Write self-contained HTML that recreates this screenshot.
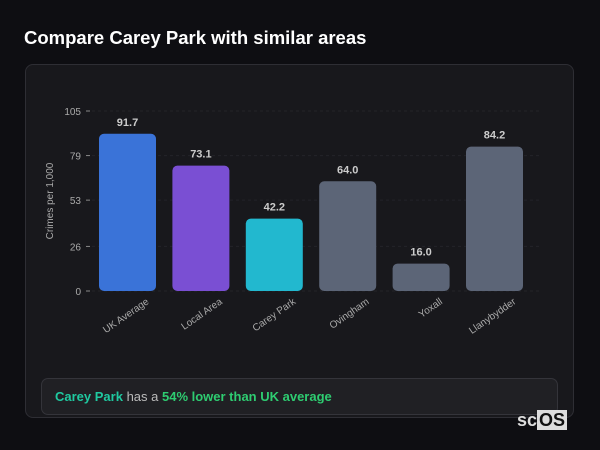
<!DOCTYPE html>
<html><head><meta charset="utf-8"><style>
body{margin:0;width:600px;height:450px;background:#0e0e12;font-family:"Liberation Sans",sans-serif;overflow:hidden;position:relative}
.title{position:absolute;left:24px;top:27px;color:#fff;font-weight:bold;font-size:18.5px}
.card{position:absolute;left:25px;top:64px;width:549px;height:354px;border:1px solid #2e2e34;border-radius:8px;background:#18181c;box-sizing:border-box}
.sum{position:absolute;left:41px;top:378px;width:517px;height:37px;border:1px solid #34343a;border-radius:7px;background:#202024;box-sizing:border-box;color:#bbb;font-size:13px;line-height:35px;padding-left:13px}
.g{color:#2ecc71;font-weight:bold}
.logo{position:absolute;left:517px;top:410px;font-size:18px;font-weight:bold;color:#ddd}
.logo span{background:#ddd;color:#111;padding:0 2px}
</style></head><body>
<div class="title">Compare Carey Park with similar areas</div>
<div class="card"></div>
<svg id="c" width="600" height="450" style="position:absolute;left:0;top:0"></svg>
<div class="sum"><span class="g" style="color:#1fc9a0">Carey Park</span> has a <span class="g">54% lower than UK average</span></div>
<div class="logo">sc<span>OS</span></div>
<script>
const categories=["UK Average","Local Area","Carey Park","Ovingham","Yoxall","Llanybydder"];
const values=[91.7,73.1,42.2,64.0,16.0,84.2];
const colors=["#3a73d8","#7a4fd3","#22b8cf","#5c6577","#5c6577","#5c6577"];
const ticks=[0,26,53,79,105];
const yMax=105;
const svg=document.getElementById('c');const NS="http://www.w3.org/2000/svg";
const y0=291,y1=111;
const y=v=>y0-(v/yMax)*(y0-y1);
const x=i=>99+i*73.4;const bw=57;
function mk(t,a,txt){const e=document.createElementNS(NS,t);for(const k in a)e.setAttribute(k,a[k]);if(txt!==undefined)e.textContent=txt;svg.appendChild(e);return e;}
ticks.forEach(t=>{
const g=mk('line',{x1:92,x2:540,y1:y(t),y2:y(t),stroke:'#232329','stroke-dasharray':'3,3'});


const tk=mk('line',{x1:86,x2:90,y1:y(t),y2:y(t),stroke:'#888'});


const l=mk('text',{x:81,y:y(t)+4,'text-anchor':'end','font-size':10,fill:'#aaa'},t);


});
const yt=mk('text',{x:0,y:0,transform:'translate(53,201) rotate(-90)','text-anchor':'middle','font-size':10,fill:'#aaa'},'Crimes per 1,000');


values.forEach((v,i)=>{
const b=mk('rect',{x:x(i),y:y(v),width:bw,height:y0-y(v),rx:5,fill:colors[i]});


const vl=mk('text',{x:x(i)+bw/2,y:y(v)-8,'text-anchor':'middle','font-size':11,'font-weight':'bold',fill:'#ccc'},v.toFixed(1));


const cx=x(i)+bw/2+22,cy=y0+12;
const cl=mk('text',{x:cx,y:cy,transform:`rotate(-35 ${cx} ${cy})`,'text-anchor':'end','font-size':10,fill:'#aaa'},categories[i]);


});
</script>
</body></html>
